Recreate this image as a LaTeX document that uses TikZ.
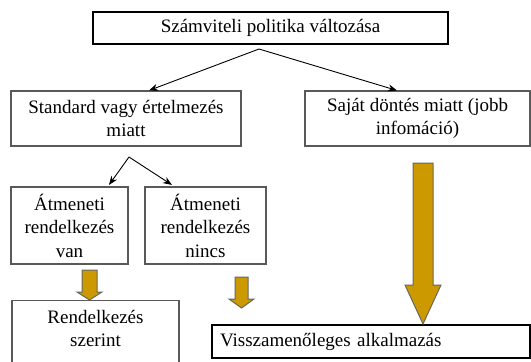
\documentclass[tikz,border=0pt]{standalone}
\usepackage{fontspec}
\setmainfont{Liberation Serif}
\newfontfamily\diagfont{Liberation Serif}
\usetikzlibrary{arrows.meta,calc}
\definecolor{goldfill}{HTML}{CC9900}
% #1 cx, #2 ytop, #3 y head start, #4 y tip, #5 shaft half width, #6 head half width
\newcommand\gblockarrow[6]{%
  \draw[blockarrow] (#1-#5,#2) -- (#1+#5,#2) -- (#1+#5,#3) -- (#1+#6,#3) -- (#1,#4)
    -- (#1-#6,#3) -- (#1-#5,#3) -- cycle;}
\begin{document}
\begin{tikzpicture}[x=1pt,y=-1pt,
  box/.style={draw=black!65, line width=1.1pt, inner sep=0pt, align=center,
    font=\diagfont\fontsize{19}{23.5}\selectfont},
  mainbox/.style={box, draw=black, line width=1.4pt},
  lbl/.style={inner sep=0pt, align=center, font=\diagfont\fontsize{19}{23.5}\selectfont},
  conn/.style={line width=0.9pt, -{Stealth[length=9pt,width=7pt]}},
  blockarrow/.style={fill=goldfill, draw=black!60, line width=1pt, line join=miter}]
\useasboundingbox (0,0) rectangle (531,362);
\clip (0,0) rectangle (531,362);

\node[mainbox, minimum width=355, minimum height=32] (top) at (270.5,28) {Számviteli politika változása};
\node[box, minimum width=230, minimum height=55] (std) at (126,118.5) {Standard vagy értelmezés\\miatt};
\node[box, minimum width=225, minimum height=55] (sajat) at (417.5,118.5) {Saját döntés miatt (jobb\\infomáció)};
\node[box, minimum width=117, minimum height=77] (van) at (69.5,225.5) {Átmeneti\\rendelkezés\\van};
\node[box, minimum width=121, minimum height=77] (nincs) at (205.5,225.5) {Átmeneti\\rendelkezés\\nincs};
\node[box, minimum width=167, minimum height=80, anchor=north] (rend) at (95.5,300) {};
\node[lbl, anchor=north] (rendtxt) at ([yshift=-10pt]rend.north) {Rendelkezés\\szerint};
\node[mainbox, minimum width=318, minimum height=33, inner xsep=8pt, text width=302pt, align=left] (vis) at (371,341.5) {Visszamenőleges alkalmazás};

\coordinate (split1) at (259,49);
\coordinate (stdin) at (149,0);
\coordinate (sajin) at (397,0);
\draw[conn] (split1) -- (std.north -| stdin);
\draw[conn] (split1) -- (sajat.north -| sajin);

\coordinate (split2) at (129,157);
\coordinate (vanin) at (109,0);
\coordinate (nincsin) at (172,0);
\draw[conn] (split2) -- ([yshift=1.5pt]van.north -| vanin);
\draw[conn] (split2) -- ([yshift=1.5pt]nincs.north -| nincsin);

\gblockarrow{89.5}{270}{292}{300}{7.5}{12.5}
\gblockarrow{241.5}{277}{299}{308}{6.5}{12.5}
\gblockarrow{423}{163}{285}{324}{10}{18}
\end{tikzpicture}
\end{document}
